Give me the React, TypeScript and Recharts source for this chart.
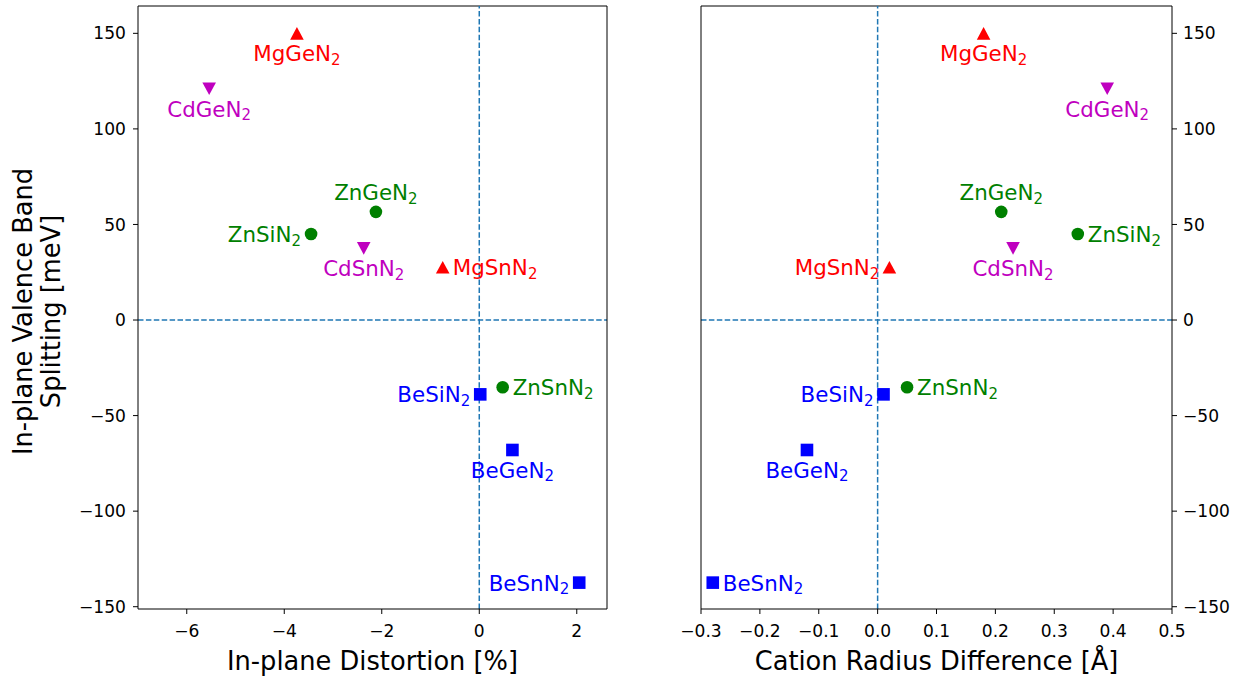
import React from 'react';
import { ScatterChart, Scatter, XAxis, YAxis, ReferenceLine } from 'recharts';

// ---- data ----
const compounds = ['MgGeN2', 'CdGeN2', 'ZnGeN2', 'ZnSiN2', 'CdSnN2', 'MgSnN2', 'BeSiN2', 'ZnSnN2', 'BeGeN2', 'BeSnN2'];
const distortion = [-3.74, -5.54, -2.12, -3.45, -2.37, -0.75, 0.02, 0.48, 0.68, 2.05];
const radiusDiff = [0.18, 0.39, 0.21, 0.34, 0.23, 0.02, 0.01, 0.05, -0.12, -0.28];
const splitting = [150, 121, 56.6, 45, 37.5, 27.6, -38.9, -35.2, -68, -137.4];

// label placement relative to marker, per panel
const labelSideDistortion = ['below', 'below', 'above', 'left', 'below', 'right', 'left', 'right', 'below', 'left'];
const labelSideRadius = ['below', 'below', 'above', 'right', 'below', 'left', 'left', 'right', 'below', 'right'];

const distortionTicks = [-6, -4, -2, 0, 2];
const radiusTicks = [-0.3, -0.2, -0.1, 0, 0.1, 0.2, 0.3, 0.4, 0.5];
const splittingTicks = [-150, -100, -50, 0, 50, 100, 150];

const distortionDomain = [-7, 2.62];
const radiusDomain = [-0.3, 0.5];
const splittingDomain = [-151.2, 164.3];

const families = ['Mg', 'Cd', 'Zn', 'Be'];
const familyColor: Record<string, string> = { Mg: '#ff0000', Cd: '#bf00bf', Zn: '#008000', Be: '#0000ff' };
const familyMarker: Record<string, string> = { Mg: 'triUp', Cd: 'triDown', Zn: 'circle', Be: 'square' };

const FONT = 'DejaVu Sans, sans-serif';
const TICK_FS = 17.1;
const AXIS_FS = 25.7;
const LABEL_FS = 21.4;

function buildSeries(xs: number[], sides: string[], fam: string) {
  return compounds
    .map((name, i) => ({ name, x: xs[i], y: splitting[i], side: sides[i] }))
    .filter((d) => d.name.slice(0, 2) === fam);
}

function Marker({ cx, cy, kind, color }: any) {
  const w = 6.8;
  if (kind === 'triUp') {
    return <polygon points={`${cx},${cy - 6.3} ${cx - w},${cy + 6.3} ${cx + w},${cy + 6.3}`} fill={color} />;
  }
  if (kind === 'triDown') {
    return <polygon points={`${cx},${cy + 6.3} ${cx - w},${cy - 6.3} ${cx + w},${cy - 6.3}`} fill={color} />;
  }
  if (kind === 'circle') {
    return <circle cx={cx} cy={cy} r={6.3} fill={color} />;
  }
  return <rect x={cx - 6.3} y={cy - 6.3} width={12.6} height={12.6} fill={color} />;
}

function makeShape(fam: string) {
  const color = familyColor[fam];
  const kind = familyMarker[fam];
  return (props: any) => {
    const { cx, cy, payload } = props;
    if (cx == null || cy == null) return <g />;
    const side = payload.side;
    let tx = cx;
    let ty = cy;
    let anchor: 'start' | 'middle' | 'end' = 'middle';
    if (side === 'below') {
      ty = cy + 28;
    } else if (side === 'above') {
      ty = cy - 11.5;
    } else if (side === 'left') {
      tx = cx - 10;
      ty = cy + 8;
      anchor = 'end';
    } else {
      tx = cx + 10;
      ty = cy + 8;
      anchor = 'start';
    }
    const name: string = payload.name;
    return (
      <g>
        <Marker cx={cx} cy={cy} kind={kind} color={color} />
        <text x={tx} y={ty} textAnchor={anchor} fill={color} fontFamily={FONT} fontSize={LABEL_FS}>
          {name.slice(0, -1)}
          <tspan fontSize={LABEL_FS * 0.7} dy={3.5}>
            {name.slice(-1)}
          </tspan>
        </text>
      </g>
    );
  };
}

const fmtMinus = (s: string) => s.replace('-', '\u2212');

const tickStyle = { fill: '#000', fontSize: TICK_FS, fontFamily: FONT };

function XLabel(text: string) {
  return (p: any) => {
    const vb = p.viewBox;
    return (
      <text x={vb.x + vb.width / 2} y={vb.y + 61} textAnchor="middle" fontFamily={FONT} fontSize={AXIS_FS} fill="#000">
        {text}
      </text>
    );
  };
}

function YLabel(p: any) {
  const vb = p.viewBox;
  const cy = vb.y + vb.height / 2 + 4;
  return (
    <g>
      <text x={32} y={cy} transform={`rotate(-90, 32, ${cy})`} textAnchor="middle" fontFamily={FONT} fontSize={AXIS_FS} fill="#000">
        In-plane Valence Band
      </text>
      <text x={60} y={cy} transform={`rotate(-90, 60, ${cy})`} textAnchor="middle" fontFamily={FONT} fontSize={AXIS_FS} fill="#000">
        Splitting [meV]
      </text>
    </g>
  );
}

function Panel({ xs, sides, xDomain, xTicks, xFmt, xLabel, left, width, leftAxisW, rightAxisW, labelsLeft }: any) {
  return (
    <div style={{ position: 'absolute', left, top: 0 }}>
      <ScatterChart width={width} height={679} margin={{ top: 6, right: 0, bottom: 0, left: 0 }}>
        <XAxis
          dataKey="x"
          type="number"
          domain={xDomain}
          ticks={xTicks}
          allowDataOverflow
          interval={0}
          height={70}
          stroke="#000"
          tickSize={5}
          tickMargin={11}
          tick={tickStyle}
          tickFormatter={xFmt}
          label={{ content: XLabel(xLabel) }}
        />
        <YAxis
          yAxisId="left"
          dataKey="y"
          type="number"
          domain={splittingDomain}
          ticks={splittingTicks}
          allowDataOverflow
          interval={0}
          width={leftAxisW}
          stroke="#000"
          tickSize={5}
          tickMargin={7}
          tick={labelsLeft ? tickStyle : false}
          tickFormatter={(v: number) => fmtMinus(String(v))}
          label={labelsLeft ? { content: YLabel } : undefined}
        />
        <YAxis
          yAxisId="right"
          orientation="right"
          type="number"
          domain={splittingDomain}
          ticks={splittingTicks}
          allowDataOverflow
          interval={0}
          width={rightAxisW}
          stroke="#000"
          tickSize={5}
          tickMargin={6}
          tick={labelsLeft ? false : tickStyle}
          tickFormatter={(v: number) => fmtMinus(String(v))}
        />
        <ReferenceLine yAxisId="left" y={splittingDomain[1]} stroke="#000" strokeWidth={1} />
        <ReferenceLine yAxisId="left" x={0} stroke="#1f77b4" strokeWidth={1.5} strokeDasharray="5.5 2.4" />
        <ReferenceLine yAxisId="left" y={0} stroke="#1f77b4" strokeWidth={1.5} strokeDasharray="5.5 2.4" />
        {families.map((fam) => (
          <Scatter
            key={fam}
            yAxisId="left"
            data={buildSeries(xs, sides, fam)}
            fill={familyColor[fam]}
            shape={makeShape(fam)}
            isAnimationActive={false}
          />
        ))}
      </ScatterChart>
    </div>
  );
}

export default function App() {
  return (
    <div style={{ position: 'absolute', left: 0, top: 0, width: 1242, height: 679, background: '#fff' }}>
      <Panel
        xs={distortion}
        sides={labelSideDistortion}
        xDomain={distortionDomain}
        xTicks={distortionTicks}
        xFmt={(v: number) => fmtMinus(String(v))}
        xLabel="In-plane Distortion [%]"
        left={0}
        width={620}
        leftAxisW={138}
        rightAxisW={13}
        labelsLeft={true}
      />
      <Panel
        xs={radiusDiff}
        sides={labelSideRadius}
        xDomain={radiusDomain}
        xTicks={radiusTicks}
        xFmt={(v: number) => fmtMinus(v.toFixed(1))}
        xLabel="Cation Radius Difference [Å]"
        left={620}
        width={622}
        leftAxisW={81}
        rightAxisW={70}
        labelsLeft={false}
      />
    </div>
  );
}
